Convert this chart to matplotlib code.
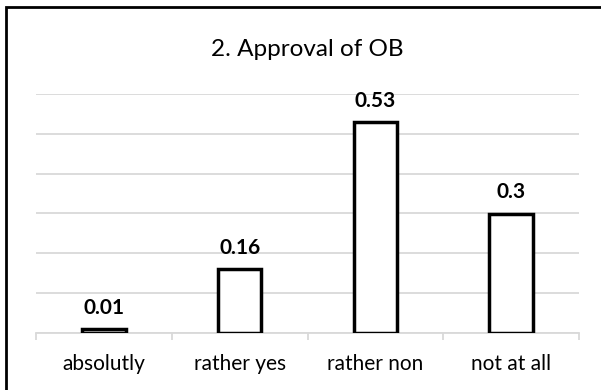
import matplotlib
matplotlib.use("Agg")
import matplotlib.pyplot as plt
from matplotlib.patches import Rectangle

categories = ["absolutly", "rather yes", "rather non", "not at all"]
values = [0.01, 0.16, 0.53, 0.3]
title = "2. Approval of OB"

plt.rcParams['font.family'] = ['Lato', 'DejaVu Sans']

fig = plt.figure(figsize=(6.01, 3.90), dpi=100)
ax = fig.add_axes([36/601, 1-333/390, (579-36)/601, (333-94)/390])

x = range(len(categories))
bars = ax.bar(x, values, width=0.32, facecolor="white", edgecolor="black", linewidth=2.5, zorder=3)
for xi, v in zip(x, values):
    ax.annotate(f"{v:g}", (xi, v), xytext=(0, 11), textcoords="offset points",
                ha="center", va="baseline", fontsize=15, fontweight="bold", color="black")

ax.set_xlim(-0.5, len(categories) - 0.5)
ax.set_ylim(0, 0.6)
ax.set_yticks([0.1 * i for i in range(7)])
ax.yaxis.grid(True, color="#d9d9d9", linewidth=1.3, zorder=0)
ax.tick_params(axis="y", left=False, labelleft=False)
ax.set_xticks(list(x))
ax.set_xticklabels(categories, fontsize=15)
ax.tick_params(axis="x", length=0, pad=15)
ax.set_xticks([i - 0.5 for i in range(len(categories) + 1)], minor=True)
ax.tick_params(axis="x", which="minor", length=5, color="#d9d9d9", width=1.3)
for s in ["left", "right", "top"]:
    ax.spines[s].set_visible(False)
ax.spines["bottom"].set_color("#d9d9d9")
ax.spines["bottom"].set_linewidth(1.3)

fig.text(307/601, 1 - 56/390, title, ha="center", va="baseline", fontsize=17.5)

border = Rectangle((6/601, -0.1), 1.0, 1.1 - 7/390, transform=fig.transFigure,
                   fill=False, edgecolor="black", linewidth=2, clip_on=False)
fig.add_artist(border)

fig.savefig("out.png", dpi=100)
